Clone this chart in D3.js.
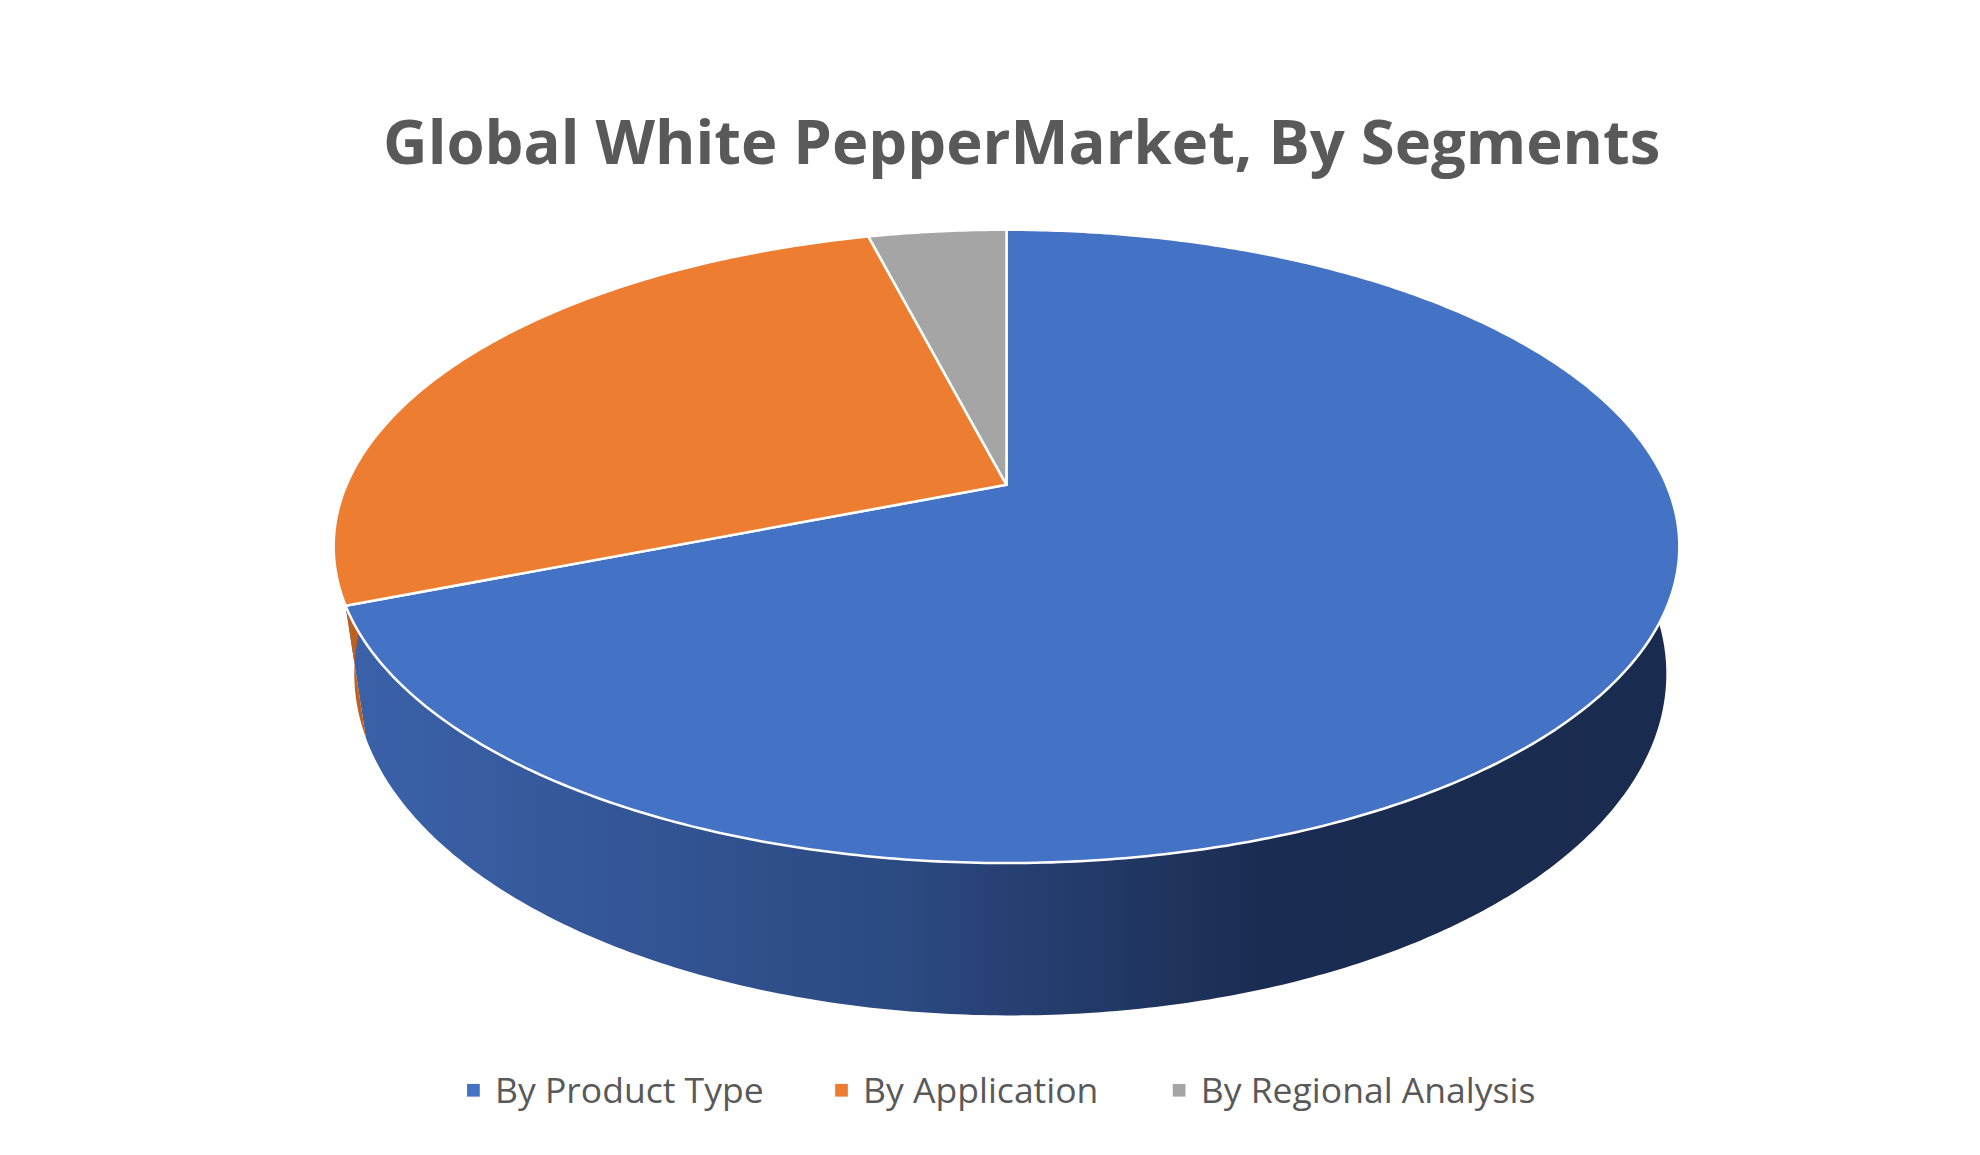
<!DOCTYPE html><html><head><meta charset="utf-8"><script src="https://cdn.jsdelivr.net/npm/d3@7"></script>
<style>body{margin:0;background:#fff}</style></head><body><svg id="c" width="1980" height="1155"></svg>
<script>
const categories=["By Product Type","By Application","By Regional Analysis"];
const values=[69,27,4];
const colors=["#4472C4","#ED7D31","#A5A5A5"];
const title="Global White PepperMarket, By Segments";

const svg=d3.select("#c");
const k=1980/1560;
const g=svg.append("g").attr("transform",`scale(${k})`);
const cx=793,rx0=520,a=165.8,b=382,c=-0.1944,d0=96.7;
function topPt(t){const u=Math.sin(t),v=-Math.cos(t),w=1+c*v;return [cx+rx0*u/w,(a*v+b)/w];}
function botPt(t){const v=-Math.cos(t),w=1+c*v;const p=topPt(t);return [cx+(p[0]-cx)*0.975+3,p[1]+d0/w];}
function samp(f,t0,t1){const n=Math.max(2,Math.ceil(Math.abs(t1-t0)/0.01));return d3.range(n+1).map(i=>f(t0+(t1-t0)*i/n));}
const arcs=d3.pie().sort(null).value(d=>d)(values);

const defs=svg.append("defs");
const lg=defs.append("linearGradient").attr("id","gb").attr("gradientUnits","userSpaceOnUse").attr("x1",288).attr("x2",1325).attr("y1",0).attr("y2",0);
[[0,"#3A61A8"],[0.4,"#2C4A82"],[0.68,"#1B2C52"],[1,"#192B4E"]].forEach(s=>lg.append("stop").attr("offset",s[0]).attr("stop-color",s[1]));
const side=[null,"#C0601F","#7a7a7a"];
const line=d3.line();
arcs.forEach((A,i)=>{
  const t0=Math.max(A.startAngle,Math.PI/2),t1=Math.min(A.endAngle,3*Math.PI/2);
  if(t1<=t0)return;
  const pts=samp(topPt,t0,t1).concat(samp(botPt,t1,t0));
  g.append("path").attr("d",line(pts)+"Z").attr("fill",i==0?"url(#gb)":side[i]).attr("stroke","none");
});
arcs.forEach((A,i)=>{
  const pts=[[cx,b]].concat(samp(topPt,A.startAngle,A.endAngle));
  g.append("path").attr("d",line(pts)+"Z").attr("fill",colors[i]).attr("stroke","#fff").attr("stroke-width",2).attr("stroke-linejoin","round");
});
g.append("text").attr("x",805).attr("y",129).attr("text-anchor","middle").attr("font-family","Open Sans, sans-serif").attr("font-weight",700).attr("font-size",48.5).attr("fill","#595959").text(title);
const lx=[373,663,929];
categories.forEach((n,i)=>{
  g.append("rect").attr("x",lx[i]-5).attr("y",854).attr("width",10).attr("height",10).attr("fill",colors[i]);
  g.append("text").attr("x",lx[i]+17).attr("y",869).attr("font-family","Open Sans, sans-serif").attr("font-size",28).attr("fill","#595959").text(n);
});
</script></body></html>
